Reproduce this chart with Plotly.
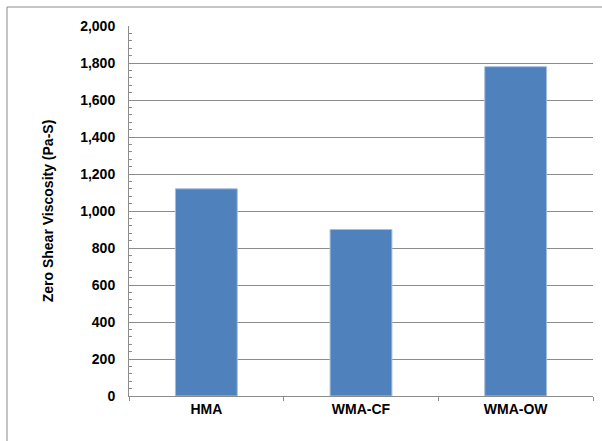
import plotly.graph_objects as go

categories = ["HMA", "WMA-CF", "WMA-OW"]
viscosity = [1120, 900, 1780]
y_title = "Zero Shear Viscosity (Pa-S)"

W, H = 602, 441
ml, mr, mt, mb = 129, 9, 26, 45
pw, ph = W - ml - mr, H - mt - mb

FAM = "Liberation Sans, Arial, sans-serif"
GRAY = "#8C8C8C"

fig = go.Figure()
fig.add_trace(go.Bar(
    x=categories, y=viscosity,
    marker=dict(color="#4F81BD", line=dict(color="#A7BFDE", width=1)),
    width=0.4,
))

fig.update_layout(
    width=W, height=H,
    margin=dict(l=ml, r=mr, t=mt, b=mb, autoexpand=False),
    paper_bgcolor="white", plot_bgcolor="white",
    showlegend=False,
    font=dict(family=FAM, size=14, color="#000000"),
    bargap=0.6,
)
fig.update_yaxes(
    range=[0, 2000], dtick=200, tickformat=",",
    showgrid=True, gridcolor=GRAY, gridwidth=1,
    showline=True, linecolor=GRAY, linewidth=1,
    ticks="", tickfont=dict(family=FAM, size=14, weight="bold"),
    ticklabelstandoff=10,
    minor=dict(dtick=40, ticks="inside", ticklen=3, tickcolor=GRAY, showgrid=False),
    title=dict(text="<b>" + y_title + "</b>", font=dict(family=FAM, size=14), standoff=23),
    zeroline=False,
)
fig.update_xaxes(
    showline=True, linecolor=GRAY, linewidth=1,
    ticks="outside", tickson="boundaries", ticklen=4, tickcolor=GRAY,
    tickfont=dict(family=FAM, size=14, weight="bold"),
    showgrid=False,
)
# outer chart border
fig.add_shape(type="rect", xref="paper", yref="paper",
              x0=(7 - ml) / pw, x1=(W + 5 - ml) / pw,
              y0=(H - mb - (H + 5)) / ph, y1=(H - mb - 7) / ph,
              line=dict(color=GRAY, width=1), fillcolor="rgba(0,0,0,0)", layer="below")

fig.write_html("out.html", config={"displayModeBar": False},
               post_script="document.body.style.margin='0';")
